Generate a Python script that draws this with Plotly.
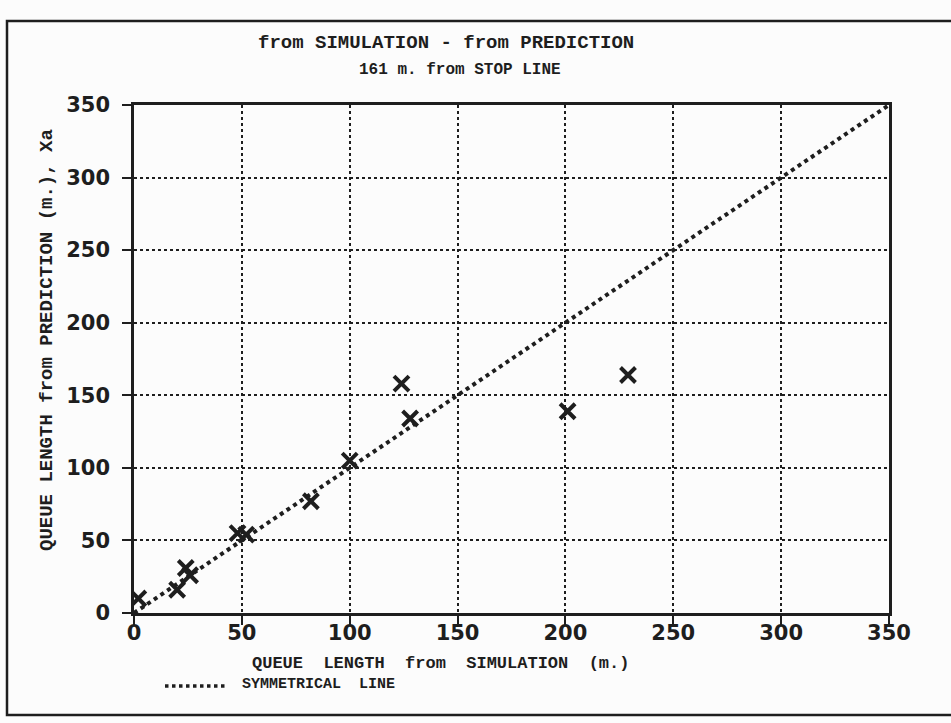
import plotly.graph_objects as go

# Data
sim_len = [2, 20, 24, 26, 48, 52, 82, 100, 124, 128, 201, 229]
pred_len = [10, 16, 31, 26, 55, 54, 77, 105, 158, 134, 139, 164]
sym_x = [0, 350]
sym_y = [0, 350]
tick_vals = [0, 50, 100, 150, 200, 250, 300, 350]

INK = "#1e1e1e"
MONO = "Liberation Mono, Courier New, monospace"

fig = go.Figure()
fig.add_trace(go.Scatter(
    x=sym_x, y=sym_y, mode="lines",
    line=dict(color=INK, width=4, dash="dot"),
    showlegend=False, hoverinfo="skip",
))
fig.add_trace(go.Scatter(
    x=sim_len, y=pred_len, mode="markers",
    marker=dict(symbol="x-thin-open", size=15, color=INK,
                line=dict(color=INK, width=4)),
    showlegend=False,
))

axis_common = dict(
    range=[0, 350], tickvals=tick_vals, showline=True, linewidth=2.5,
    linecolor=INK, mirror=True, ticks="outside", ticklen=9, tickwidth=2,
    tickcolor=INK, showgrid=True, gridcolor=INK, gridwidth=1.5, griddash="dot",
    zeroline=False,
    tickfont=dict(family="DejaVu Sans", size=21, color=INK, weight="bold"),
)
fig.update_xaxes(**axis_common, ticklabelstandoff=-10)
fig.update_yaxes(**axis_common, ticklabelstandoff=8)

L, R, T, B = 134, 889, 105, 613
W, H = R - L, B - T

def px(x):
    return (x - L) / W

def py(y):
    return (B - y) / H

annots = [
    dict(text="<b>from SIMULATION - from PREDICTION</b>", x=px(446), y=py(43), size=19),
    dict(text="<b>161 m. from STOP LINE</b>", x=px(460), y=py(70), size=16),
    dict(text="<b>QUEUE  LENGTH  from  SIMULATION  (m.)</b>", x=px(440), y=py(663), size=17),
]
for a in annots:
    fig.add_annotation(text=a["text"], x=a["x"], y=a["y"], xref="paper", yref="paper",
                       showarrow=False, xanchor="center", yanchor="middle",
                       font=dict(family=MONO, size=a["size"], color=INK))
fig.add_annotation(text="<b>QUEUE LENGTH from PREDICTION (m.), Xa</b>", x=px(47), y=py(340),
                   xref="paper", yref="paper", showarrow=False, textangle=-90,
                   xanchor="center", yanchor="middle",
                   font=dict(family=MONO, size=19, color=INK))
fig.add_annotation(text="<b>SYMMETRICAL  LINE</b>", x=px(240), y=py(684),
                   xref="paper", yref="paper", showarrow=False,
                   xanchor="left", yanchor="middle",
                   font=dict(family=MONO, size=15, color=INK))

# legend sample line and outer frame
fig.add_shape(type="line", xref="paper", yref="paper",
              x0=px(165), x1=px(228), y0=py(686), y1=py(686),
              line=dict(color=INK, width=3.5, dash="dot"))
fig.add_shape(type="rect", xref="paper", yref="paper",
              x0=px(7), x1=px(980), y0=py(715), y1=py(21),
              line=dict(color=INK, width=2.5), fillcolor="rgba(0,0,0,0)")

fig.update_layout(
    width=951, height=723,
    margin=dict(l=L, r=951 - R, t=T, b=723 - B),
    paper_bgcolor="#fcfcfc", plot_bgcolor="#fcfcfc",
    showlegend=False,
)
fig.write_html("out.html", config={"displayModeBar": False},
               post_script="document.body.style.margin='0px';")
